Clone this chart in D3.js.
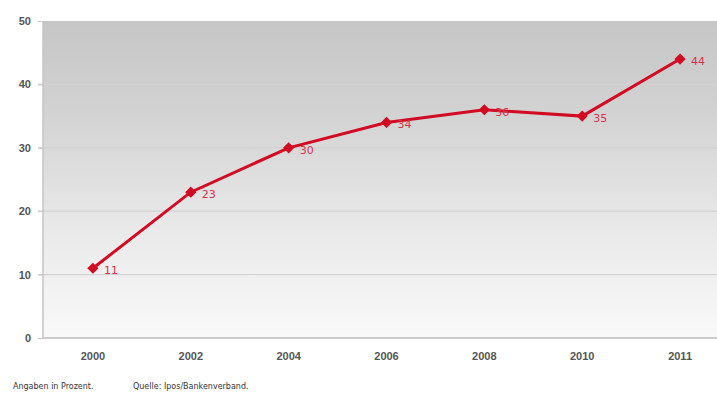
<!DOCTYPE html>
<html>
<head>
<meta charset="utf-8">
<script src="https://cdn.jsdelivr.net/npm/d3@7"></script>
<style>
  html, body { margin: 0; padding: 0; background: #fff; }
  svg { display: block; font-family: "DejaVu Sans", sans-serif; }
</style>
</head>
<body>
<div id="chart"></div>
<script>
// data
const years = ["2000", "2002", "2004", "2006", "2008", "2010", "2011"];
const values = [11, 23, 30, 34, 36, 35, 44];
const yTicks = [0, 10, 20, 30, 40, 50];
const footNotes = ["Angaben in Prozent.", "Quelle: Ipos/Bankenverband."];

const width = 717, height = 393;
const margin = ({ top: 21, right: -12, bottom: 55, left: 43 });

const svg = d3.select("#chart").append("svg")
    .attr("width", width)
    .attr("height", height);

const x = d3.scaleBand()
    .domain(years)
    .range([margin.left + 1, width - margin.right]);

const y = d3.scaleLinear()
    .domain([0, 50])
    .range([height - margin.bottom, margin.top]);

// background gradient of the plot area
const grad = svg.append("defs").append("linearGradient")
    .attr("id", "bg")
    .attr("x1", 0).attr("y1", 0).attr("x2", 0).attr("y2", 1);
grad.append("stop").attr("offset", "0%").attr("stop-color", "#c6c6c6");
grad.append("stop").attr("offset", "30%").attr("stop-color", "#d3d3d3");
grad.append("stop").attr("offset", "65%").attr("stop-color", "#e9e9e9");
grad.append("stop").attr("offset", "100%").attr("stop-color", "#f9f9f9");

svg.append("rect")
    .attr("x", margin.left)
    .attr("y", y(50))
    .attr("width", width - margin.left)
    .attr("height", y(0) - y(50))
    .style("fill", "url(#bg)");

// gridlines
svg.append("g")
    .selectAll("line")
    .data(yTicks.filter(d => d > 0 && d < 50))
    .join("line")
    .attr("x1", margin.left - 5)
    .attr("x2", width)
    .attr("y1", d => y(d))
    .attr("y2", d => y(d))
    .attr("stroke", "#d2d2d2")
    .attr("stroke-width", 1.2);

// left axis line
svg.append("line")
    .attr("x1", margin.left).attr("x2", margin.left)
    .attr("y1", y(50)).attr("y2", y(0))
    .attr("stroke", "#c4c4c4")
    .attr("stroke-width", 1.5);

// y axis
const yAxis = svg.append("g")
    .attr("transform", `translate(${margin.left},0)`)
    .call(d3.axisLeft(y).tickValues(yTicks).tickSize(5).tickPadding(7));
yAxis.select(".domain").remove();
yAxis.selectAll(".tick line").attr("stroke", "#c8c8c8");
yAxis.selectAll(".tick text")
    .style("font-size", "11px")
    .style("font-weight", "bold")
    .style("fill", "#555");

// bottom axis
svg.append("line")
    .attr("x1", margin.left).attr("x2", width)
    .attr("y1", y(0)).attr("y2", y(0))
    .attr("stroke", "#cccccc")
    .attr("stroke-width", 2);

const xAxis = svg.append("g")
    .attr("transform", `translate(0,${y(0)})`)
    .call(d3.axisBottom(x).tickSize(0).tickPadding(14));
xAxis.select(".domain").remove();
xAxis.selectAll(".tick text")
    .style("font-size", "11px")
    .style("font-weight", "bold")
    .style("fill", "#555");

const pts = years.map((yr, i) => ({ year: yr, value: values[i] }));
const cx = d => x(d.year) + x.bandwidth() / 2;

// line
svg.append("path")
    .datum(pts)
    .attr("fill", "none")
    .attr("stroke", "#d20a22")
    .attr("stroke-width", 3)
    .attr("d", d3.line().x(cx).y(d => y(d.value)));

// diamond markers
svg.append("g")
    .selectAll("path")
    .data(pts)
    .join("path")
    .attr("transform", d => `translate(${cx(d)},${y(d.value)})`)
    .attr("d", d3.symbol(d3.symbolDiamond2, 80))
    .attr("fill", "#d20a22");

// value labels
svg.append("g")
    .selectAll("text")
    .data(pts)
    .join("text")
    .attr("x", d => cx(d) + 11)
    .attr("y", d => y(d.value) + 6)
    .text(d => d.value)
    .style("font-size", "11px")
    .style("fill", "#d6334a");

// foot notes
svg.append("g")
    .selectAll("text")
    .data(footNotes)
    .join("text")
    .attr("x", (d, i) => i == 0 ? 13 : 133)
    .attr("y", 389)
    .text(d => d)
    .style("font-size", "8px")
    .style("fill", "#333");
</script>
</body>
</html>
